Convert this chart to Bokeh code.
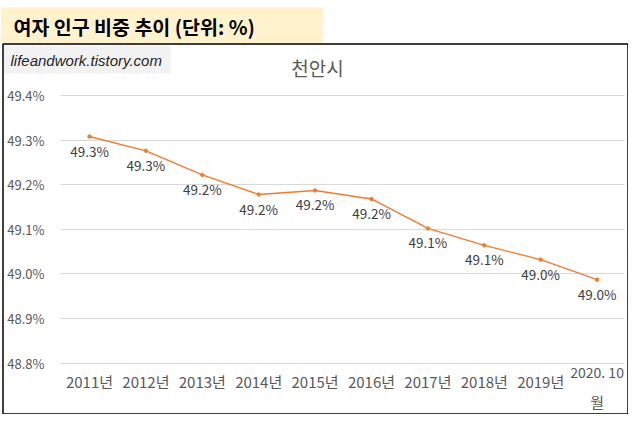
from bokeh.plotting import figure
from bokeh.models import (Range1d, FixedTicker, PrintfTickFormatter, LinearAxis,
                          BoxAnnotation, Label, ColumnDataSource, Grid)
from bokeh.core.properties import value
from bokeh.embed import file_html
from bokeh.resources import INLINE

# ---- data ----
categories = ["2011년", "2012년", "2013년", "2014년", "2015년",
              "2016년", "2017년", "2018년", "2019년", "2020. 10"]
last_label_second_line = "월"
female_share = [49.308, 49.276, 49.222, 49.178, 49.187,
                49.168, 49.102, 49.064, 49.032, 48.987]
y_ticks = [48.8, 48.9, 49.0, 49.1, 49.2, 49.3, 49.4]
data_labels = [f"{v:.1f}%" for v in female_share]
banner_text = "여자 인구 비중 추이 (단위: %)"
chart_title = "천안시"
watermark = "lifeandwork.tistory.com"

KR = "Noto Sans CJK KR"
W, H = 628, 414

# layout constants (pixels on the canvas)
PX_PER_CAT = 56.4      # width of one category slot
FIRST_CENTER = 89.0    # canvas x of first category
PX_PER_UNIT = 446.0    # pixels per 1.0 percentage point
TOP_TICK_Y = 95.0      # canvas y of the highest tick
y_top = y_ticks[-1] + TOP_TICK_Y / PX_PER_UNIT
y_bot = y_ticks[-1] - (H - TOP_TICK_Y) / PX_PER_UNIT
x_lo = -FIRST_CENTER / PX_PER_CAT
x_hi = (W - FIRST_CENTER) / PX_PER_CAT
plot_left = (60 - FIRST_CENTER) / PX_PER_CAT
plot_right = (624 - FIRST_CENTER) / PX_PER_CAT

idx = list(range(len(categories)))

p = figure(width=W, height=H, title=None,
           x_range=Range1d(x_lo, x_hi), y_range=Range1d(y_bot, y_top),
           output_backend="svg", toolbar_location=None,
           min_border=0, min_border_left=0, min_border_right=0,
           min_border_top=0, min_border_bottom=0)
p.outline_line_color = None
p.background_fill_color = "white"
p.border_fill_color = "white"

def cbox(l, r, t, b, **kw):
    return BoxAnnotation(left=l, right=r, top=t, bottom=b,
                         left_units="canvas", right_units="canvas",
                         top_units="canvas", bottom_units="canvas", **kw)

p.add_layout(cbox(0, 322, 7, 43.5, fill_color="#FFF2CC", fill_alpha=1,
                  line_color=None, level="underlay"))
p.add_layout(cbox(3, 170, 45, 73, fill_color="#F2F2F2", fill_alpha=1,
                  line_color=None, level="underlay"))
p.add_layout(cbox(2.5, 627.5, 43.5, 413.5, fill_color=None, fill_alpha=0,
                  line_color="black", line_alpha=1, line_width=1.5,
                  level="overlay"))

p.add_layout(Label(x=13, y=25.5, x_units="canvas", y_units="canvas",
                   text=banner_text, text_font=KR, text_font_size="19.5px",
                   text_font_style="bold", text_color="black",
                   text_baseline="middle", text_align="left"))
p.add_layout(Label(x=10, y=60, x_units="canvas", y_units="canvas",
                   text=watermark, text_font="Liberation Sans", text_font_size="15px",
                   text_font_style="italic", text_color="#262626",
                   text_baseline="middle", text_align="left"))
p.add_layout(Label(x=317, y=67, x_units="canvas", y_units="canvas",
                   text=chart_title, text_font=KR, text_font_size="19px",
                   text_color="#595959",
                   text_baseline="middle", text_align="center"))

# y axis (fixed at the plot area's left edge)
p.yaxis.fixed_location = plot_left
p.yaxis.ticker = FixedTicker(ticks=y_ticks)
p.yaxis.formatter = PrintfTickFormatter(format="%.1f%%")
p.yaxis.axis_line_color = None
p.yaxis.major_tick_line_color = None
p.yaxis.minor_tick_line_color = None
p.yaxis.major_tick_out = 0
p.yaxis.major_tick_in = 0
p.yaxis.major_label_standoff = 16
p.yaxis.major_label_text_font = KR
p.yaxis.major_label_text_font_size = "13px"
p.yaxis.major_label_text_color = "#595959"

def style_x(ax, size="15px"):
    ax.axis_line_color = None
    ax.major_tick_line_color = None
    ax.minor_tick_line_color = None
    ax.major_tick_out = 0
    ax.major_tick_in = 0
    ax.major_label_text_font = KR
    ax.major_label_text_font_size = size
    ax.major_label_text_color = "#595959"

# x axis (fixed at the lowest tick): years
p.xaxis.fixed_location = y_ticks[0]
p.xaxis.ticker = FixedTicker(ticks=idx[:-1])
p.xaxis.major_label_overrides = {i: c for i, c in zip(idx[:-1], categories[:-1])}
p.xaxis.major_label_standoff = 8
style_x(p.xaxis[0])

# last category label, wrapped on two lines as in the original
ax_last1 = LinearAxis(fixed_location=y_ticks[0], ticker=FixedTicker(ticks=[idx[-1]]),
                      major_label_overrides={idx[-1]: categories[-1]},
                      major_label_standoff=-1)
style_x(ax_last1, "14px")
p.add_layout(ax_last1, "below")
ax_last2 = LinearAxis(fixed_location=y_ticks[0], ticker=FixedTicker(ticks=[idx[-1]]),
                      major_label_overrides={idx[-1]: last_label_second_line},
                      major_label_standoff=28)
style_x(ax_last2)
p.add_layout(ax_last2, "below")

p.xgrid.grid_line_color = None
if "cross_bounds" in Grid.properties():
    p.ygrid.grid_line_color = "#D9D9D9"
    p.ygrid.grid_line_width = 1
    p.ygrid.cross_bounds = (plot_left, plot_right)
else:
    p.ygrid.grid_line_color = None
    p.segment(x0=[plot_left] * len(y_ticks), x1=[plot_right] * len(y_ticks),
              y0=y_ticks, y1=y_ticks, line_color="#D9D9D9", line_width=1)

src = ColumnDataSource(dict(x=idx, y=female_share, label=data_labels))
p.line(x="x", y="y", source=src, line_color="#ED7D31", line_width=1.4)
p.scatter(x="x", y="y", source=src, size=3.5, fill_color="#ED7D31",
          line_color="#ED7D31")
p.text(x="x", y="y", text="label", source=src, text_align="center",
       text_baseline="top", y_offset=4, text_font=value(KR),
       text_font_size="13.5px", text_color="#404040")

open("out.html", "w").write(file_html(p, INLINE))
